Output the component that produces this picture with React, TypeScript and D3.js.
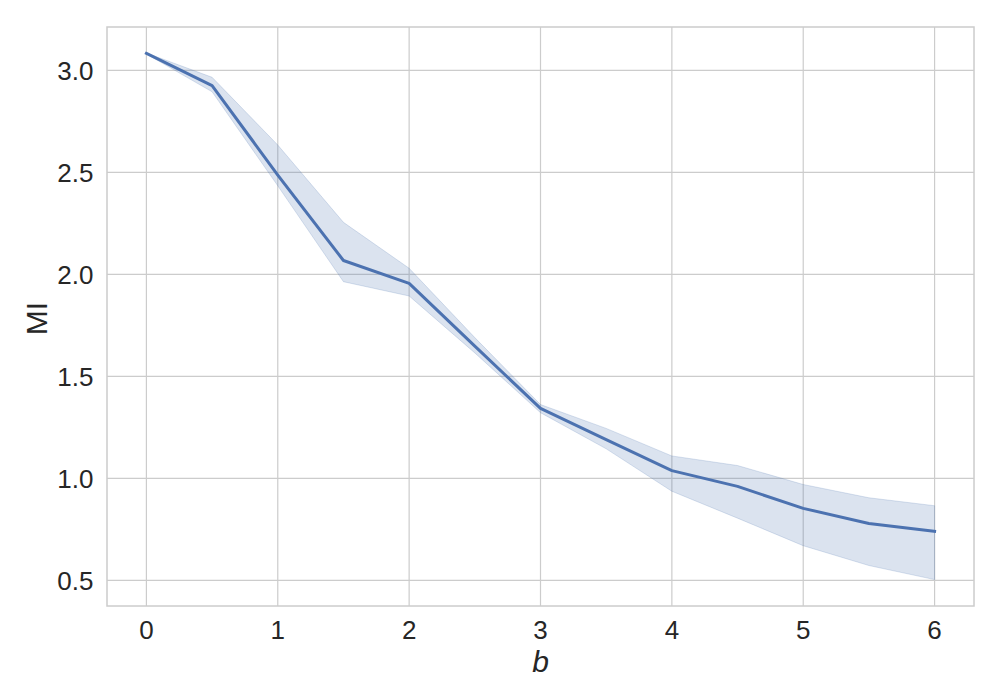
import React from "react";
import * as d3 from "d3";

const xValues = [0, 0.5, 1, 1.5, 2, 2.5, 3, 3.5, 4, 4.5, 5, 5.5, 6];
const meanMI = [3.083, 2.925, 2.487, 2.068, 1.956, 1.648, 1.343, 1.19, 1.038, 0.961, 0.853, 0.779, 0.741];
const upperMI = [3.085, 2.966, 2.634, 2.255, 2.03, 1.69, 1.362, 1.245, 1.11, 1.063, 0.97, 0.905, 0.866];
const lowerMI = [3.08, 2.895, 2.434, 1.964, 1.894, 1.615, 1.322, 1.145, 0.937, 0.805, 0.67, 0.573, 0.504];
const xTicks = [0, 1, 2, 3, 4, 5, 6];
const yTicks = [0.5, 1.0, 1.5, 2.0, 2.5, 3.0];

const W = 1000;
const H = 700;
const M = { left: 107, right: 974, top: 27, bottom: 606 };
const FONT = "Liberation Sans, Arial, Helvetica, sans-serif";
const TEXT = "#262626";
const GRID = "#cccccc";
const BLUE = "#4c72b0";

export default function App() {
  const x = d3.scaleLinear().domain([-0.3, 6.3]).range([M.left, M.right]);
  const y = d3.scaleLinear().domain([0.3745, 3.2125]).range([M.bottom, M.top]);

  const rows = xValues.map((v, i) => ({ x: v, m: meanMI[i], lo: lowerMI[i], hi: upperMI[i] }));
  const line = d3.line<any>().x((d) => x(d.x)).y((d) => y(d.m));
  const area = d3.area<any>().x((d) => x(d.x)).y0((d) => y(d.lo)).y1((d) => y(d.hi));

  return (
    <svg width={W} height={H} style={{ position: "absolute", left: 0, top: 0, background: "#fff" }}>
      <rect x={0} y={0} width={W} height={H} fill="#fff" />
      {xTicks.map((t) => (
        <line key={"gx" + t} x1={x(t)} x2={x(t)} y1={M.top} y2={M.bottom} stroke={GRID} strokeWidth={1.2} />
      ))}
      {yTicks.map((t) => (
        <line key={"gy" + t} x1={M.left} x2={M.right} y1={y(t)} y2={y(t)} stroke={GRID} strokeWidth={1.2} />
      ))}
      <path d={area(rows) || ""} fill={BLUE} fillOpacity={0.2} stroke={BLUE} strokeOpacity={0.2} strokeWidth={1} />
      <path d={line(rows) || ""} fill="none" stroke={BLUE} strokeWidth={3} strokeLinejoin="round" strokeLinecap="square" />
      <rect x={M.left} y={M.top} width={M.right - M.left} height={M.bottom - M.top} fill="none" stroke={GRID} strokeWidth={1.5} />
      {xTicks.map((t) => (
        <text key={"tx" + t} x={x(t)} y={638.5} textAnchor="middle" fontFamily={FONT} fontSize={26} fill={TEXT}>
          {d3.format("d")(t)}
        </text>
      ))}
      {yTicks.map((t) => (
        <text key={"ty" + t} x={93.5} y={y(t) + 9.5} textAnchor="end" fontFamily={FONT} fontSize={26} fill={TEXT}>
          {d3.format(".1f")(t)}
        </text>
      ))}
      <text x={(M.left + M.right) / 2} y={672} textAnchor="middle" fontFamily={FONT} fontSize={30} fontStyle="italic" fill={TEXT}>
        b
      </text>
      <text
        transform={`translate(46.5, ${(M.top + M.bottom) / 2 + 2}) rotate(-90)`}
        textAnchor="middle"
        fontFamily={FONT}
        fontSize={30}
        fill={TEXT}
      >
        MI
      </text>
    </svg>
  );
}
